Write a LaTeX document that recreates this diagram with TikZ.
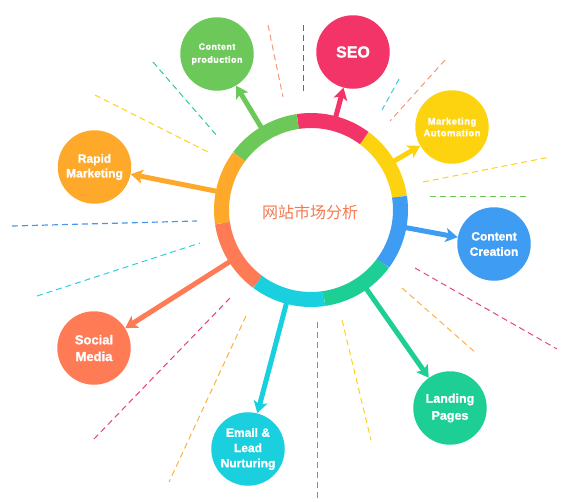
\documentclass[tikz,border=0pt]{standalone}
\usepackage{fontspec}
\setmainfont{Liberation Sans}[BoldFeatures={FakeBold=1.2}]
\newfontfamily\spaced{Liberation Sans}[LetterSpace=5,BoldFeatures={FakeBold=1.2}]
\newfontfamily\cjk{Noto Sans CJK SC}
\usetikzlibrary{arrows.meta}
\definecolor{cgreen}{HTML}{6DC85A}
\definecolor{cpink}{HTML}{F23468}
\definecolor{cyellow}{HTML}{FDD20E}
\definecolor{cblue}{HTML}{3E9CF2}
\definecolor{cteal}{HTML}{1ECF95}
\definecolor{ccyan}{HTML}{1AD0DE}
\definecolor{ccoral}{HTML}{FF7B56}
\definecolor{corange}{HTML}{FFA92B}
\definecolor{ctext}{HTML}{F47A52}
\definecolor{dsalmon}{HTML}{F5987A}
\definecolor{dcrimson}{HTML}{D9365A}
\definecolor{dcyan}{HTML}{2DD0E0}
\definecolor{dteal}{HTML}{2CC99A}
\definecolor{dyellow}{HTML}{FFD21A}
\definecolor{dblue}{HTML}{4A98EC}
\definecolor{dpink}{HTML}{E8457A}
\definecolor{dorange}{HTML}{FFB040}
\begin{document}
\begin{tikzpicture}[x=1pt,y=-1pt,
  bub/.style={circle,minimum size=73.5pt,inner sep=0pt,text=white,font=\bfseries,align=center},
  arr/.style={line width=5pt,-{Stealth[length=12pt,width=14pt,inset=3pt]}},
  dl/.style={line width=1pt,dash pattern=on 6pt off 4pt},
  seg/.style={line width=15pt}]
\useasboundingbox (0,0) rectangle (567,501);
% decorative dashed lines
\draw[dl,dsalmon] (268,25) -- (283,97);
\draw[dl,dcrimson] (303,25) -- (303,92);
\draw[dl,dcyan] (399,79) -- (382,110);
\draw[dl,dsalmon] (445,60) -- (390,121);
\draw[dl,dteal] (153,62) -- (218,137);
\draw[dl,dyellow] (95,95) -- (210,153);
\draw[dl,dblue,line width=1.2pt] (12,226) -- (197,221);
\draw[dl,dcyan] (37,296) -- (200,243);
\draw[dl,dpink] (230,298) -- (94,439);
\draw[dl,dorange] (246,316) -- (169,482);
\draw[dl,dblue] (317,322) -- (317,498);
\draw[dl,dyellow] (342,320) -- (371,440);
\draw[dl,dorange] (402,288) -- (476,353);
\draw[dl,dpink] (415,268) -- (557,349);
\draw[dl,dyellow] (423,182) -- (550,157);
\draw[dl,cgreen] (430,196) -- (527,196);
% hub
\node[circle,minimum size=186pt,inner sep=0pt] (ring) at (311,210) {};
% bubbles
\node[bub,fill=cgreen,font=\spaced\bfseries\fontsize{9}{13}\selectfont] (cp) at (217,54) {Content\\production};
\node[bub,fill=cpink,font=\bfseries\fontsize{16}{18}\selectfont] (seo) at (353,52) {SEO};
\node[bub,fill=cyellow,font=\spaced\bfseries\fontsize{9.5}{11.7}\selectfont] (ma) at (452,127) {Marketing\\Automation};
\node[bub,fill=cblue,font=\bfseries\fontsize{12}{15.3}\selectfont] (cc) at (494,244) {Content\\Creation};
\node[bub,fill=cteal,font=\bfseries\fontsize{12.5}{17}\selectfont] (lp) at (450,408) {Landing\\Pages};
\node[bub,fill=ccyan,font=\bfseries\fontsize{12}{15.3}\selectfont] (em) at (248,449) {Email \&\\Lead\\Nurturing};
\node[bub,fill=ccoral,font=\bfseries\fontsize{13}{16.7}\selectfont] (sm) at (94,348) {Social\\Media};
\node[bub,fill=corange,font=\bfseries\fontsize{12}{14.7}\selectfont] (rm) at (94.5,167) {Rapid\\Marketing};
% arrows
\draw[arr,cgreen] (ring) -- (cp);
\draw[arr,cpink] (ring) -- (seo);
\draw[arr,cyellow] (ring) -- (ma);
\draw[arr,cblue] (ring) -- (cc);
\draw[arr,cteal] (ring) -- (lp);
\draw[arr,ccyan] (ring) -- (em);
\draw[arr,ccoral] (ring) -- (sm);
\draw[arr,corange] (ring) -- (rm);
% ring segments
\begin{scope}[shift={(ring.center)}]
\draw[seg,cyellow] (8.5:89.5pt) arc[start angle=8.5,end angle=53.5,radius=89.5pt];
\draw[seg,cpink] (53.5:89.5pt) arc[start angle=53.5,end angle=98.5,radius=89.5pt];
\draw[seg,cgreen] (98.5:89.5pt) arc[start angle=98.5,end angle=143.5,radius=89.5pt];
\draw[seg,corange] (143.5:89.5pt) arc[start angle=143.5,end angle=188.5,radius=89.5pt];
\draw[seg,ccoral] (188.5:89.5pt) arc[start angle=188.5,end angle=233.5,radius=89.5pt];
\draw[seg,ccyan] (233.5:89.5pt) arc[start angle=233.5,end angle=278.5,radius=89.5pt];
\draw[seg,cteal] (278.5:89.5pt) arc[start angle=278.5,end angle=323.5,radius=89.5pt];
\draw[seg,cblue] (323.5:89.5pt) arc[start angle=323.5,end angle=368.5,radius=89.5pt];
\end{scope}
\node[text=ctext,font=\cjk\fontsize{16}{18}\selectfont] (title) at (310,212) {网站市场分析};
\end{tikzpicture}
\end{document}
